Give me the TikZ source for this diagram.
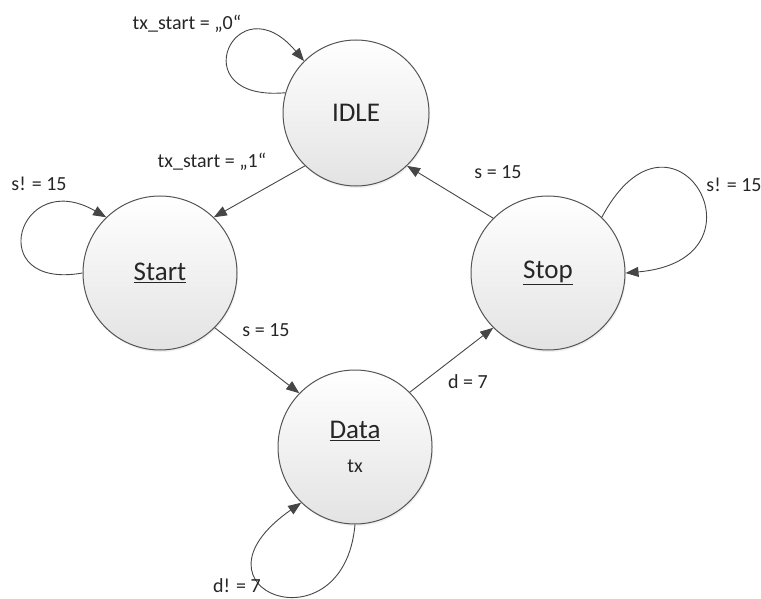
\documentclass[tikz,border=0pt]{standalone}
\usepackage{fontspec}
\setmainfont{Carlito}
\usepackage{tikz}
\usetikzlibrary{positioning,arrows.meta,shadows}

\definecolor{stateline}{RGB}{85,85,85}
\definecolor{edgeline}{RGB}{70,70,70}
\newcommand{\lblfont}{\fontsize{20bp}{23bp}\selectfont}

\begin{document}
\begin{tikzpicture}[x=1bp, y=1bp,
	  state/.style = {shape=circle, draw=stateline, line width=1bp,
	    minimum size=154bp, inner sep=0pt, align=center, text=black!85,
	    top color=white, bottom color=black!11,
	    drop shadow={opacity=0.12, shadow xshift=1bp, shadow yshift=-2bp},
	    font=\fontsize{27bp}{31bp}\selectfont},
	  trans/.style = {draw=edgeline, line width=0.9bp,
	    -{Triangle[length=13bp,width=10bp]}},
	  lbl/.style = {anchor=base, inner sep=0pt, text=black!85, font=\lblfont}]
	  \useasboundingbox (0,0) rectangle (761,-599);
	  % states
	  \node[state, minimum size=146bp] (idle) at (356,-113) {IDLE};
	  \node[state] (start) at (160,-273) {\underline{Start}};
	  \node[state] (stop) at (548,-273) {\underline{Stop}};
	  \node[state] (data) at (355,-447) {\underline{Data}\\[3bp]{\lblfont tx}};
	  % transitions
	  \draw[trans] (idle.226) -- (start.46);
	  \draw[trans] (start.-45) -- (data.136);
	  \draw[trans] (data.45) -- (stop.225);
	  \draw[trans] (stop.135) -- (idle.-46);
	  % self loops
	  \draw[trans] (idle.164) to[out=185, in=130, distance=106bp] (idle.135);
	  \draw[trans] (start.180) to[out=190, in=150, distance=102bp] (start.134);
	  \draw[trans] (stop.46) to[out=62, in=5, distance=152bp] (stop.0);
	  \draw[trans] (data.-90) to[out=265, in=215, out distance=128bp, in distance=152bp] (data.226);
	  % labels
	  \node[lbl] (l0) at (187,-30) {tx\_start = „0“};
	  \node[lbl] (l1) at (212,-168) {tx\_start = „1“};
	  \node[lbl] (l2) at (39,-191) {s! = 15};
	  \node[lbl] (l3) at (266,-336) {s = 15};
	  \node[lbl] (l4) at (498,-179) {s = 15};
	  \node[lbl] (l5) at (734,-192) {s! = 15};
	  \node[lbl] (l6) at (468,-388) {d = 7};
	  \node[lbl] (l7) at (237,-592) {d! = 7};
\end{tikzpicture}
\end{document}
